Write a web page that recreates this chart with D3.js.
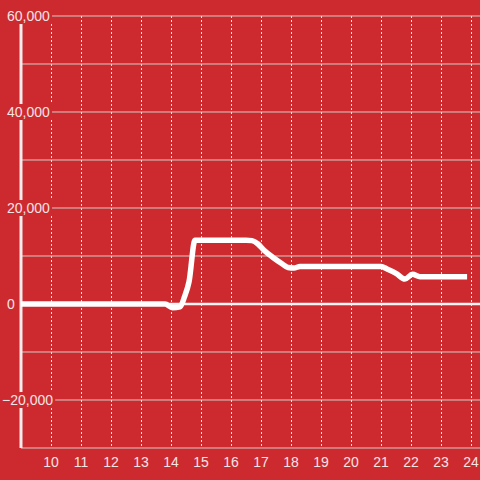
<!DOCTYPE html>
<html lang="en">
<head>
  <meta charset="UTF-8">
  <title>line</title>
  <style>
    html, body { margin: 0; padding: 0; background: #cd2a2f; }
    #main { width: 480px; height: 480px; }
    text { font-family: "Liberation Sans", Arial, sans-serif; }
  </style>
</head>
<body>
  <div id="main"></div>
  <script src="https://d3js.org/d3.v7.min.js"></script>
  <script>
    // data
    const xs = [9, 13.8, 14.05, 14.3, 14.45, 14.6, 14.8, 16.5, 16.7, 16.9, 17.1, 17.4, 17.7, 17.9, 18.1, 18.3, 21.0, 21.2, 21.5, 21.8, 22.05, 22.3, 23.87]
    const ys = [0, 0, -800, -600, 1500, 4600, 13300, 13300, 13200, 12500, 11200, 9700, 8400, 7600, 7500, 7800, 7800, 7300, 6400, 5200, 6200, 5700, 5700]
    const xTicks = [10, 11, 12, 13, 14, 15, 16, 17, 18, 19, 20, 21, 22, 23, 24]
    const yLabels = [60000, 40000, 20000, 0, -20000]
    const yGrid = [60000, 50000, 40000, 30000, 20000, 10000, -10000, -20000, -30000]

    const [width, height] = [480, 480]
    const svg = d3.select('#main').append('svg')
      .attr('width', width)
      .attr('height', height)

    svg.append('rect').attr('width', width).attr('height', height).attr('fill', '#cd2a2f')

    const x = d3.scaleLinear().domain([9, 24.3]).range([21, 480])
    const y = d3.scaleLinear().domain([-30000, 60000]).range([448, 16])

    // horizontal grid
    svg.append('g').selectAll('line').data(yGrid).join('line')
      .attr('x1', x(9)).attr('x2', width)
      .attr('y1', d => y(d)).attr('y2', d => y(d))
      .attr('stroke', '#d6c9c9').attr('stroke-width', 1)

    // vertical dashed grid
    svg.append('g').selectAll('line').data(xTicks).join('line')
      .attr('x1', d => x(d) + 0.5).attr('x2', d => x(d) + 0.5)
      .attr('y1', y(60000)).attr('y2', y(-30000))
      .attr('stroke', '#eee2e2').attr('stroke-width', 1)
      .attr('stroke-dasharray', '2,2')

    // zero line
    svg.append('line')
      .attr('x1', x(9)).attr('x2', width)
      .attr('y1', y(0)).attr('y2', y(0))
      .attr('stroke', '#fbf4f4').attr('stroke-width', 2.5)

    // left axis line
    svg.append('line')
      .attr('x1', x(9)).attr('x2', x(9))
      .attr('y1', y(60000)).attr('y2', y(-30000))
      .attr('stroke', '#f2ecec').attr('stroke-width', 3)

    // y labels with background
    const yl = svg.append('g').selectAll('g').data(yLabels).join('g')
      .attr('transform', d => `translate(0,${y(d)})`)
    yl.append('rect')
      .attr('fill', '#cd2a2f')
      .attr('y', -8).attr('height', 16)
    yl.append('text')
      .attr('x', d => d < 0 ? 2 : 7)
      .attr('dy', '0.35em')
      .attr('fill', '#f4e4e4')
      .style('font-size', '14px')
      .text(d => d3.format(',')(d))
    yl.each(function () {
      const t = d3.select(this).select('text').node().getBBox()
      d3.select(this).select('rect').attr('x', 0).attr('width', t.x + t.width + 2)
    })

    // x labels
    svg.append('g').selectAll('text').data(xTicks).join('text')
      .attr('x', d => x(d))
      .attr('y', 462)
      .attr('dy', '0.35em')
      .attr('text-anchor', 'middle')
      .attr('fill', '#f4e4e4')
      .style('font-size', '14px')
      .text(d => d)

    // data line
    const line = d3.line()
      .x(d => x(d[0]))
      .y(d => y(d[1]))
      .curve(d3.curveMonotoneX)
    svg.append('path')
      .datum(xs.map((v, i) => [v, ys[i]]))
      .attr('d', line)
      .attr('fill', 'none')
      .attr('stroke', '#ffffff')
      .attr('stroke-width', 5.5)
      .attr('stroke-linejoin', 'round')
  </script>
</body>
</html>
